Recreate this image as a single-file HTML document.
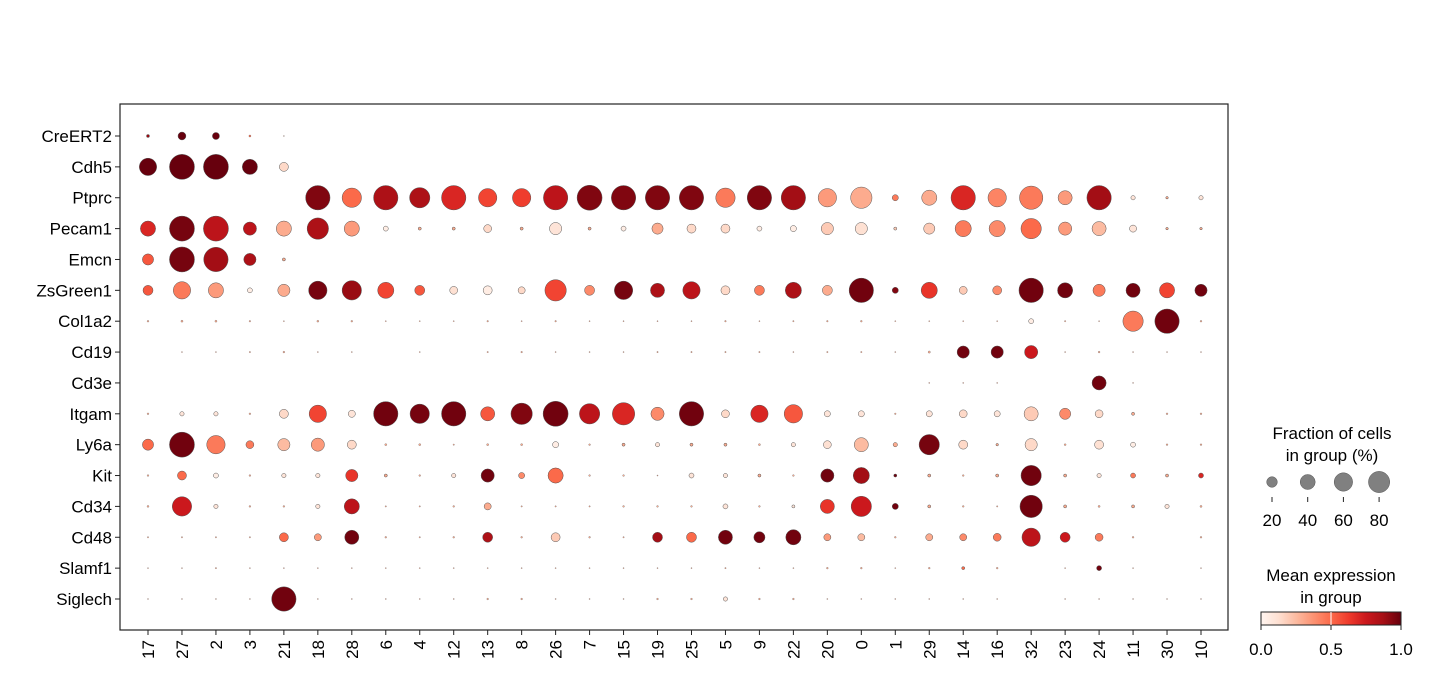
<!DOCTYPE html>
<html><head><meta charset="utf-8"><style>
body{margin:0;background:#fff;}
svg text{font-family:"Liberation Sans",sans-serif;fill:#000;}
</style></head><body>
<svg id="chart" width="1430" height="679" viewBox="0 0 1430 679" xmlns="http://www.w3.org/2000/svg">
<defs><linearGradient id="reds" x1="0" x2="1" y1="0" y2="0">
<stop offset="0" stop-color="#fff5f0"/><stop offset="0.125" stop-color="#fee0d2"/><stop offset="0.25" stop-color="#fcbba1"/><stop offset="0.375" stop-color="#fc9272"/><stop offset="0.5" stop-color="#fb6a4a"/><stop offset="0.625" stop-color="#ef3b2c"/><stop offset="0.75" stop-color="#cb181d"/><stop offset="0.875" stop-color="#a50f15"/><stop offset="1" stop-color="#67000d"/>
</linearGradient></defs>
<rect x="120" y="104" width="1108" height="526" fill="none" stroke="#222" stroke-width="1.2"/>
<g id="marks"></g><g id="axes"></g>
<g>
<text x="1332" y="439" font-size="17" text-anchor="middle">Fraction of cells</text>
<text x="1332" y="461" font-size="17" text-anchor="middle">in group (%)</text>
<g id="sizeleg"></g>
</g>
<g>
<text x="1331" y="581" font-size="17" text-anchor="middle">Mean expression</text>
<text x="1331" y="603" font-size="17" text-anchor="middle">in group</text>
<rect x="1261" y="612" width="140" height="13" fill="url(#reds)" stroke="#222" stroke-width="1"/>
<line x1="1331" y1="612" x2="1331" y2="625" stroke="#fff" stroke-width="1"/>
<line x1="1261" y1="625" x2="1261" y2="630" stroke="#222"/><line x1="1331" y1="625" x2="1331" y2="630" stroke="#222"/><line x1="1401" y1="625" x2="1401" y2="630" stroke="#222"/>
<text x="1261" y="655" font-size="17" text-anchor="middle">0.0</text>
<text x="1331" y="655" font-size="17" text-anchor="middle">0.5</text>
<text x="1401" y="655" font-size="17" text-anchor="middle">1.0</text>
</g>
</svg>
<script>
const genes=["CreERT2","Cdh5","Ptprc","Pecam1","Emcn","ZsGreen1","Col1a2","Cd19","Cd3e","Itgam","Ly6a","Kit","Cd34","Cd48","Slamf1","Siglech"];
const clusters=["17","27","2","3","21","18","28","6","4","12","13","8","26","7","15","19","25","5","9","22","20","0","1","29","14","16","32","23","24","11","30","10"];
// fraction of cells (%) per gene row, per cluster
const frac=[
[1.5,10,8,0.7,0.2,0,0,0,0,0,0,0,0,0,0,0,0,0,0,0,0,0,0,0,0,0,0,0,0,0,0,0],
[48,100,100,37,13,0,0,0,0,0,0,0,0,0,0,0,0,0,0,0,0,0,0,0,0,0,0,0,0,0,0,0],
[0,0,0,0,0,95,60,95,66,95,54,54,95,100,95,95,95,60,95,95,54,73,6,37,95,54,87,32,95,3,1,3],
[37,100,100,28,37,73,37,4,1.5,1.5,10,1.5,24,1.5,4,20,13,13,4,6,24,24,1.5,20,42,42,66,28,32,8,1,1],
[20,100,95,24,1.5,0,0,0,0,0,0,0,0,0,0,0,0,0,0,0,0,0,0,0,0,0,0,0,0,0,0,0],
[16,48,37,4,24,54,60,42,16,10,13,8,73,16,54,32,48,13,16,42,16,95,6,42,10,13,95,37,24,32,37,24],
[0.5,0.7,0.7,0.4,0.2,0.6,0.5,0.2,0.2,0.2,0.4,0.2,0.4,0.2,0.2,0.2,0.2,0.4,0.2,0.3,0.4,0.5,0.2,0.2,0.2,0.2,4,0.3,0.2,66,95,0.5],
[0,0.2,0.2,0.3,0.5,0.2,0.2,0,0.2,0,0.3,0.4,0.2,0.2,0.2,0.3,0.3,0.3,0.3,0.2,0.3,0.3,0.2,0.8,24,24,28,0.2,0.5,0.2,0.2,0.2],
[0,0,0,0,0,0,0,0,0,0,0,0,0,0,0,0,0,0,0,0,0,0,0,0.2,0.2,0.2,0,0,32,0.2,0,0],
[0.5,3,3,0.5,13,48,8,95,60,95,32,73,100,66,80,28,95,10,48,54,6,6,0.4,6,10,6,32,20,10,1.5,0.5,0.5],
[20,100,54,10,24,28,13,0.7,0.7,0.3,0.7,0.7,6,0.5,1.5,3,1.5,1.5,0.7,3,10,32,3,66,13,1,24,0.6,13,4,0.5,0.5],
[0.5,13,4,0.5,3,3,24,1.5,0.5,3,28,6,37,0.5,0.5,0.2,4,3,1.5,0.5,28,42,1.5,1.5,0.5,1.5,66,1.5,3,4,1.5,4],
[0.6,60,3,0.5,0.5,3,37,0.3,0.3,0.5,8,0.3,0.3,0.3,0.5,0.5,0.5,4,0.5,1.5,32,66,6,1.5,0.5,0.3,80,1.5,0.7,1.5,3,0.7],
[0.3,0.3,0.3,0.3,13,8,32,0.5,0.3,0.5,16,0.5,13,0.5,0.3,16,16,32,20,37,8,8,0.5,8,8,10,54,16,10,0.5,0,0.5],
[0.2,0.2,0.3,0.2,0.2,0.2,0.2,0.2,0.2,0.2,0.2,0.2,0.2,0.2,0.2,0.2,0.2,0.3,0.2,0.2,0.5,0.5,0.2,0.5,1.5,0.5,0,0.2,4,0.2,0,0.2],
[0.2,0.2,0.2,0.2,95,0.2,0.2,0.2,0.2,0.2,0.5,0.5,0.2,0.2,0.2,0.5,0.5,3,0.5,0.5,0.2,0.2,0.2,0.2,0.2,0.2,0,0.2,0.2,0.2,0.2,0.2]];
// mean expression (0-1) per gene row, per cluster
const expr=[
[0.9,1,1,0.5,0.2,0,0,0,0,0,0,0,0,0,0,0,0,0,0,0,0,0,0,0,0,0,0,0,0,0,0,0],
[1,1,1,1,0.15,0,0,0,0,0,0,0,0,0,0,0,0,0,0,0,0,0,0,0,0,0,0,0,0,0,0,0],
[0,0,0,0,0,0.95,0.5,0.85,0.85,0.7,0.6,0.62,0.8,0.95,0.95,0.95,0.95,0.45,0.95,0.88,0.35,0.3,0.45,0.3,0.7,0.42,0.45,0.35,0.88,0.1,0.3,0.1],
[0.7,0.97,0.8,0.8,0.3,0.85,0.35,0.05,0.3,0.3,0.15,0.3,0.1,0.3,0.05,0.3,0.15,0.15,0.05,0.05,0.2,0.12,0.2,0.2,0.45,0.4,0.5,0.35,0.25,0.1,0.3,0.3],
[0.55,0.97,0.88,0.85,0.3,0,0,0,0,0,0,0,0,0,0,0,0,0,0,0,0,0,0,0,0,0,0,0,0,0,0,0],
[0.55,0.45,0.35,0.05,0.3,0.97,0.9,0.6,0.55,0.12,0.05,0.15,0.6,0.4,0.97,0.85,0.8,0.15,0.45,0.85,0.3,0.98,0.95,0.65,0.2,0.4,0.98,0.98,0.45,0.98,0.6,0.98],
[0.3,0.3,0.3,0.3,0.3,0.3,0.3,0.3,0.3,0.3,0.3,0.3,0.3,0.3,0.3,0.3,0.3,0.3,0.3,0.3,0.3,0.3,0.3,0.3,0.3,0.3,0.05,0.3,0.3,0.45,0.98,0.3],
[0.3,0.3,0.3,0.3,0.3,0.3,0.3,0.3,0.3,0.3,0.3,0.3,0.3,0.3,0.3,0.3,0.3,0.3,0.3,0.3,0.3,0.3,0.3,0.3,0.98,0.98,0.75,0.3,0.3,0.3,0.3,0.3],
[0,0,0,0,0,0,0,0,0,0,0,0,0,0,0,0,0,0,0,0,0,0,0,0.3,0.3,0.3,0,0,0.98,0.3,0,0],
[0.3,0.1,0.1,0.3,0.15,0.6,0.1,0.98,0.97,0.98,0.55,0.95,0.98,0.8,0.7,0.4,0.98,0.15,0.7,0.55,0.1,0.1,0.3,0.1,0.15,0.1,0.2,0.4,0.15,0.3,0.3,0.3],
[0.5,0.98,0.45,0.45,0.25,0.35,0.15,0.3,0.3,0.3,0.3,0.3,0.05,0.3,0.3,0.1,0.3,0.3,0.3,0.1,0.12,0.25,0.3,0.97,0.15,0.3,0.15,0.3,0.12,0.05,0.3,0.3],
[0.3,0.5,0.05,0.3,0.1,0.1,0.65,0.3,0.3,0.1,0.98,0.4,0.5,0.3,0.3,0.3,0.1,0.1,0.3,0.3,0.98,0.88,0.98,0.3,0.3,0.3,0.98,0.3,0.1,0.45,0.3,0.7],
[0.3,0.75,0.1,0.3,0.3,0.1,0.8,0.3,0.3,0.3,0.3,0.3,0.3,0.3,0.3,0.3,0.3,0.1,0.3,0.1,0.65,0.75,0.98,0.3,0.3,0.3,0.98,0.3,0.3,0.3,0.1,0.3],
[0.3,0.3,0.3,0.3,0.5,0.35,0.98,0.3,0.3,0.3,0.85,0.3,0.2,0.3,0.3,0.88,0.5,0.98,0.98,0.98,0.35,0.25,0.3,0.3,0.4,0.45,0.8,0.75,0.45,0.3,0,0.3],
[0.3,0.3,0.3,0.3,0.3,0.3,0.3,0.3,0.3,0.3,0.3,0.3,0.3,0.3,0.3,0.3,0.3,0.3,0.3,0.3,0.3,0.3,0.3,0.3,0.5,0.3,0,0.3,0.98,0.3,0,0.3],
[0.3,0.3,0.3,0.3,0.98,0.3,0.3,0.3,0.3,0.3,0.3,0.3,0.3,0.3,0.3,0.3,0.3,0.1,0.3,0.3,0.3,0.3,0.3,0.3,0.3,0.3,0,0.3,0.3,0.3,0.3,0.3]];
const sizeLegendVals=[20,40,60,80];

const NS="http://www.w3.org/2000/svg";
const X0=148,X1=1201,Y0=136,Y1=599,RMAX=12.5;
function xPos(i){return X0+i*(X1-X0)/(clusters.length-1);}
function yPos(j){return Y0+j*(Y1-Y0)/(genes.length-1);}
function rad(f){return RMAX*Math.sqrt(f/100);}
const stops=[[255,245,240],[254,224,210],[252,187,161],[252,146,114],[251,106,74],[239,59,44],[203,24,29],[165,15,21],[103,0,13]];
function reds(v){v=Math.max(0,Math.min(1,v))*8;const k=Math.min(7,Math.floor(v)),t=v-k;const a=stops[k],b=stops[k+1];return "rgb("+a.map((c,i)=>Math.round(c+(b[i]-c)*t)).join(",")+")";}
const marks=document.getElementById("marks"),axes=document.getElementById("axes");
genes.forEach((g,j)=>{
  clusters.forEach((c,i)=>{
    const f=frac[j][i];if(f<=0)return;
    const el=document.createElementNS(NS,"circle");
    el.setAttribute("cx",xPos(i));el.setAttribute("cy",yPos(j));el.setAttribute("r",rad(f));
    el.setAttribute("fill",reds(expr[j][i]));el.setAttribute("stroke","#555");el.setAttribute("stroke-width",f<1?0.3:0.5);
    
    
    marks.appendChild(el);
  });
  const t=document.createElementNS(NS,"text");
  t.setAttribute("x",112);t.setAttribute("y",yPos(j)+6);t.setAttribute("text-anchor","end");t.setAttribute("font-size","17");t.textContent=g;
  
  
  axes.appendChild(t);
  const tk=document.createElementNS(NS,"line");
  tk.setAttribute("x1",115);tk.setAttribute("x2",120);tk.setAttribute("y1",yPos(j));tk.setAttribute("y2",yPos(j));tk.setAttribute("stroke","#222");
  axes.appendChild(tk);
});
clusters.forEach((c,i)=>{
  const x=xPos(i);
  const tk=document.createElementNS(NS,"line");
  tk.setAttribute("x1",x);tk.setAttribute("x2",x);tk.setAttribute("y1",630);tk.setAttribute("y2",635);tk.setAttribute("stroke","#222");
  axes.appendChild(tk);
  const t=document.createElementNS(NS,"text");
  t.setAttribute("transform","translate("+(x+6)+",640) rotate(-90)");t.setAttribute("text-anchor","end");t.setAttribute("font-size","17");t.textContent=c;
  
  
  axes.appendChild(t);
});
const sl=document.getElementById("sizeleg");
sizeLegendVals.forEach((v,i)=>{
  const x=1272+i*35.7;
  const el=document.createElementNS(NS,"circle");
  el.setAttribute("cx",x);el.setAttribute("cy",482);el.setAttribute("r",rad(v)*0.95);el.setAttribute("fill","#808080");el.setAttribute("stroke","#555");el.setAttribute("stroke-width",0.5);
  
  
  sl.appendChild(el);
  const tk=document.createElementNS(NS,"line");
  tk.setAttribute("x1",x);tk.setAttribute("x2",x);tk.setAttribute("y1",497);tk.setAttribute("y2",502);tk.setAttribute("stroke","#222");
  sl.appendChild(tk);
  const t=document.createElementNS(NS,"text");
  t.setAttribute("x",x);t.setAttribute("y",526);t.setAttribute("text-anchor","middle");t.setAttribute("font-size","17");t.textContent=v;
  
  
  sl.appendChild(t);
});
</script>
</body></html>
